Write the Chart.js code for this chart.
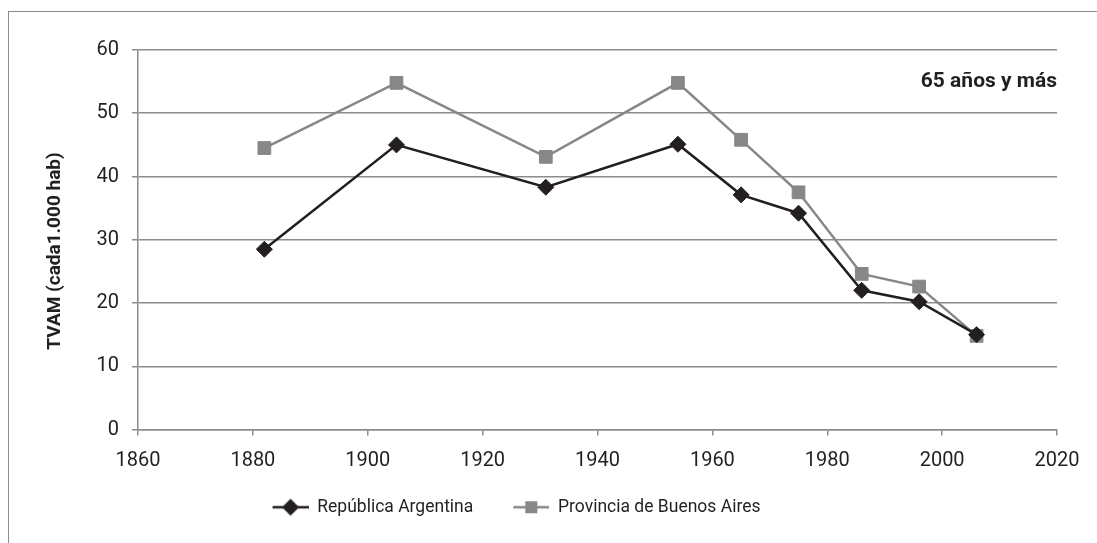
<!DOCTYPE html>
<html>
<head>
<meta charset="utf-8">
<script src="https://cdn.jsdelivr.net/npm/chart.js@4.4.0/dist/chart.umd.min.js"></script>
<style>
  html, body { margin: 0; padding: 0; background: #fff; }
  #wrap { position: relative; width: 1097px; height: 543px; overflow: hidden; }
  #frame {
    position: absolute; left: 8px; top: 11px; width: 1200px; height: 700px;
    border-left: 1px solid #8c8c8c; border-top: 1px solid #8c8c8c;
  }
  canvas { position: absolute; left: 0; top: 0; }
</style>
</head>
<body>
<div id="wrap">
  <div id="frame"></div>
  <canvas id="myChart" width="1097" height="543"></canvas>
</div>
<script>
// data
const years = [1882, 1905, 1931, 1954, 1965, 1975, 1986, 1996, 2006]
const argentina = [28.5, 45.0, 38.3, 45.1, 37.1, 34.2, 22.0, 20.2, 15.0]
const buenosAires = [44.5, 54.8, 43.1, 54.8, 45.8, 37.5, 24.6, 22.6, 14.8]
const seriesNames = ['República Argentina', 'Provincia de Buenos Aires']
const xTicks = [1860, 1880, 1900, 1920, 1940, 1960, 1980, 2000, 2020]
const yTicks = [0, 10, 20, 30, 40, 50, 60]
const yTitle = 'TVAM (cada1.000 hab)'
const panelLabel = '65 años y más'

const dark = '#231f20'
const grey = '#878787'
const gridGrey = '#8c8c8c'
const font = 'Roboto, "Noto Sans", sans-serif'

// legend icon: short line with the marker on it (left part left blank as spacing)
function legendIcon (color, style, radius) {
  const c = document.createElement('canvas')
  c.width = 52
  c.height = 20
  const g = c.getContext('2d')
  g.strokeStyle = color
  g.lineWidth = 2.5
  g.beginPath()
  g.moveTo(16, 10)
  g.lineTo(52, 10)
  g.stroke()
  g.fillStyle = color
  Chart.helpers.drawPoint(g, { pointStyle: style, radius: radius, borderWidth: 0 }, 34, 10)
  return c
}
const icons = [legendIcon(dark, 'rectRot', 8.5), legendIcon(grey, 'rect', 8.5)]

// panel label, rotated y title, and a small nudge of the legend to the left
const overlay = {
  id: 'overlay',
  afterLayout (chart) {
    chart.legend.left -= 20
    chart.legend.right -= 20
  },
  afterDraw (chart) {
    const { ctx, chartArea } = chart
    ctx.save()
    ctx.fillStyle = dark
    ctx.font = 'bold 21px ' + font
    ctx.textAlign = 'right'
    ctx.textBaseline = 'middle'
    ctx.fillText(panelLabel, chartArea.right, chartArea.top + 32)
    ctx.translate(55, 251)
    ctx.rotate(-Math.PI / 2)
    ctx.textAlign = 'center'
    ctx.font = 'bold 19px ' + font
    ctx.fillText(yTitle, 0, 0)
    ctx.restore()
  }
}

new Chart(document.getElementById('myChart'), {
  type: 'line',
  data: {
    datasets: [{
      label: seriesNames[0],
      data: years.map((x, i) => ({ x: x, y: argentina[i] })),
      borderColor: dark,
      backgroundColor: dark,
      borderWidth: 2.5,
      pointStyle: 'rectRot',
      pointRadius: 8,
      pointBorderWidth: 1,
      pointBorderColor: dark,
      pointBackgroundColor: dark,
      tension: 0
    }, {
      label: seriesNames[1],
      data: years.map((x, i) => ({ x: x, y: buenosAires[i] })),
      borderColor: grey,
      backgroundColor: grey,
      borderWidth: 2.5,
      pointStyle: 'rect',
      pointRadius: 9,
      pointBorderWidth: 1,
      pointBorderColor: grey,
      pointBackgroundColor: grey,
      tension: 0
    }]
  },
  options: {
    responsive: false,
    animation: false,
    devicePixelRatio: 1,
    layout: { padding: { top: 50, right: 40, bottom: 17, left: 0 } },
    scales: {
      x: {
        type: 'linear',
        min: xTicks[0],
        max: xTicks[xTicks.length - 1],
        afterBuildTicks: (s) => { s.ticks = xTicks.map(v => ({ value: v })) },
        afterFit: (s) => { s.height = 45 },
        border: { color: gridGrey, width: 1.5 },
        grid: { drawOnChartArea: false, color: gridGrey, lineWidth: 1.5, tickLength: 6 },
        ticks: {
          color: dark,
          font: { family: font, size: 20 },
          padding: 13,
          maxRotation: 0,
          callback: (v) => String(v)
        }
      },
      y: {
        min: yTicks[0],
        max: yTicks[yTicks.length - 1],
        afterBuildTicks: (s) => { s.ticks = yTicks.map(v => ({ value: v })) },
        afterFit: (s) => { s.width = 138 },
        border: { color: gridGrey, width: 1.5 },
        grid: { color: gridGrey, lineWidth: 1.5, tickLength: 6 },
        ticks: {
          color: dark,
          font: { family: font, size: 20 },
          padding: 13
        }
      }
    },
    plugins: {
      tooltip: { enabled: false },
      legend: {
        position: 'bottom',
        labels: {
          color: dark,
          font: { family: font, size: 17.5 },
          usePointStyle: true,
          pointStyleWidth: 52,
          boxHeight: 18,
          padding: 24,
          generateLabels (chart) {
            const items = Chart.defaults.plugins.legend.labels.generateLabels(chart)
            items.forEach((it, i) => { it.pointStyle = icons[i] })
            return items
          }
        }
      }
    }
  },
  plugins: [overlay]
})
</script>
</body>
</html>
